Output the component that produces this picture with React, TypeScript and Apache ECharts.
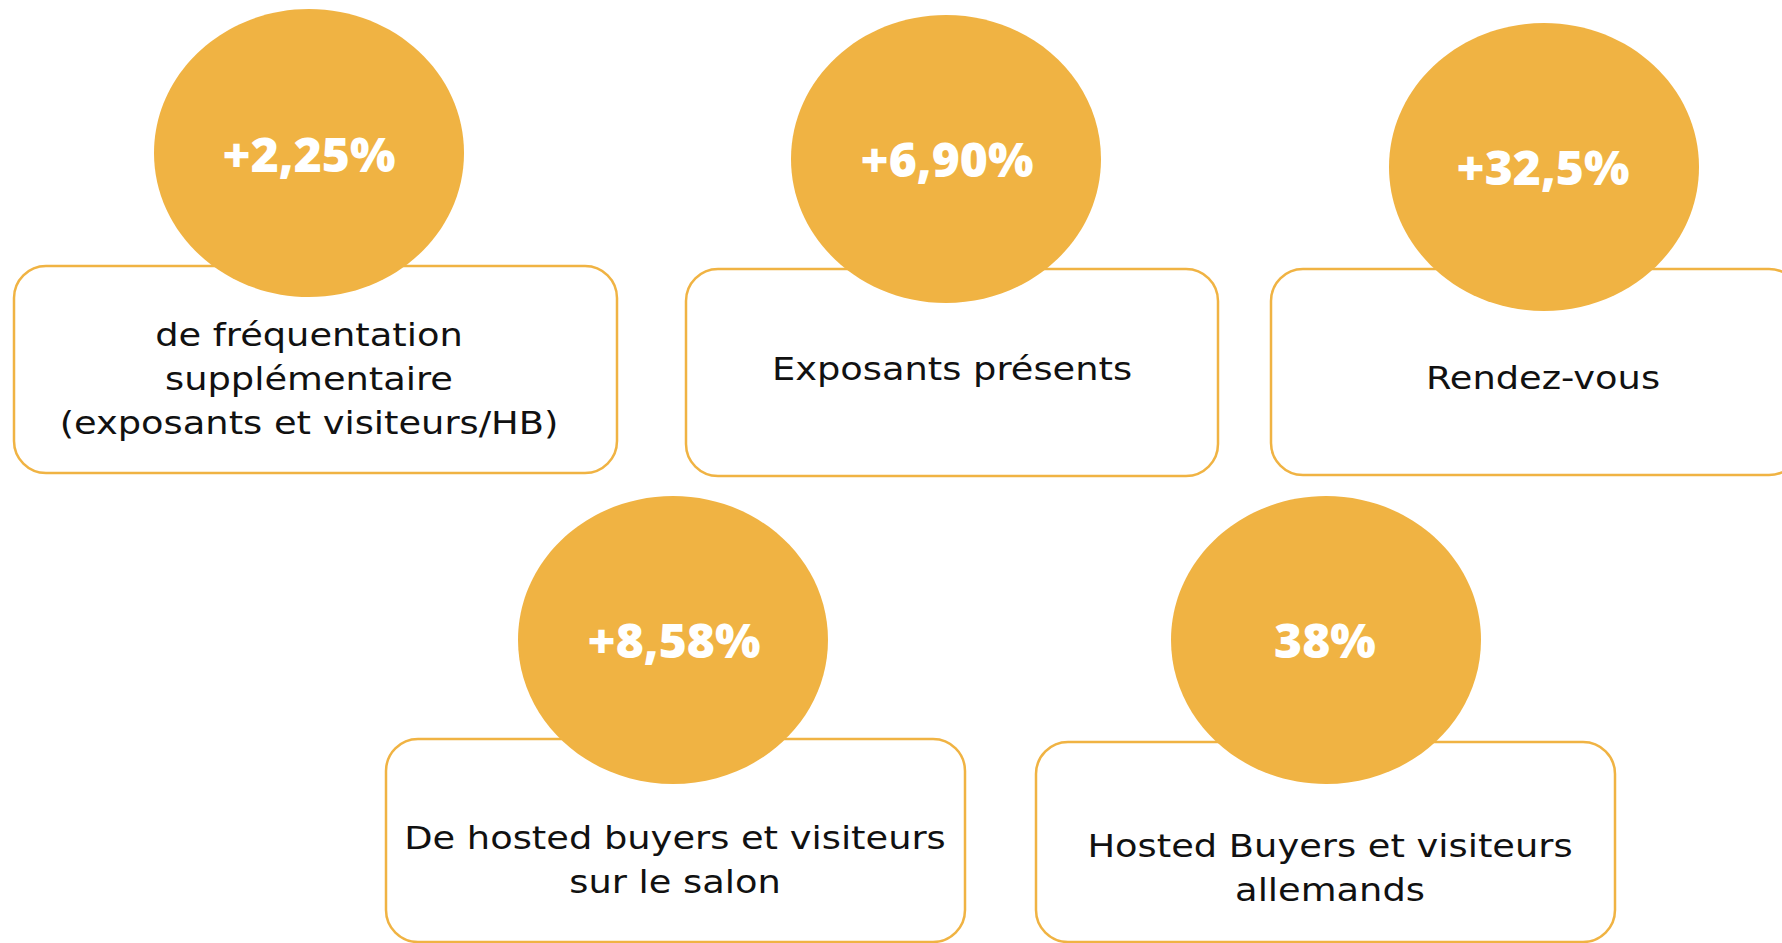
import React, { useEffect, useRef } from "react";
import * as echarts from "echarts";

// ---- data ----
const values: string[] = ["+2,25%", "+6,90%", "+32,5%", "+8,58%", "38%"];
const labels: string[] = [
  "de fréquentation\nsupplémentaire\n(exposants et visiteurs/HB)",
  "Exposants présents",
  "Rendez-vous",
  "De hosted buyers et visiteurs\nsur le salon",
  "Hosted Buyers et visiteurs\nallemands",
];

// ---- layout (positions / sizes, in px) ----
const ellipseCenters: number[][] = [
  [309, 153],
  [946, 159],
  [1544, 167],
  [673, 640],
  [1326, 640],
];
const valueCenters: number[][] = [
  [309, 153],
  [947, 158],
  [1543, 166],
  [674, 639],
  [1325, 639],
];
const boxes: number[][] = [
  [14, 266, 603, 207],
  [686, 269, 532, 207],
  [1271, 269, 530, 206],
  [386, 739, 579, 203],
  [1036, 742, 579, 200],
];
const labelCenters: number[][] = [
  [309, 379],
  [952, 369],
  [1543, 378],
  [675, 860],
  [1330, 868],
];

const ORANGE = "#F0B343";
const BODY_FONT = "'DejaVu Sans', 'Noto Sans', sans-serif";
const VALUE_FONT = "'Open Sans', 'Noto Sans', sans-serif";

export default function App() {
  const ref = useRef<HTMLDivElement>(null);
  useEffect(() => {
    if (!ref.current) return;
    const chart = echarts.init(ref.current, undefined, { renderer: "svg" });
    chart.setOption({
      animation: false,
      backgroundColor: "#ffffff",
      series: [
        {
          type: "custom",
          coordinateSystem: "none",
          silent: true,
          data: values.map((v, i) => [i]),
          renderItem: (params: any) => {
            const i = params.dataIndex;
            const [bx, by, bw, bh] = boxes[i];
            const [ex, ey] = ellipseCenters[i];
            const [vx, vy] = valueCenters[i];
            const [lx, ly] = labelCenters[i];
            return {
              type: "group",
              children: [
                {
                  type: "rect",
                  shape: { x: bx, y: by, width: bw, height: bh, r: 32 },
                  style: { fill: "#ffffff", stroke: ORANGE, lineWidth: 2.5 },
                },
                {
                  type: "text",
                  x: lx,
                  y: ly,
                  scaleX: 1.15,
                  style: {
                    text: labels[i],
                    x: 0,
                    y: 0,
                    align: "center",
                    verticalAlign: "middle",
                    fontFamily: BODY_FONT,
                    fontSize: 32,
                    lineHeight: 44,
                    fill: "#111111",
                  },
                },
                {
                  type: "ellipse",
                  shape: { cx: ex, cy: ey, rx: 155, ry: 144 },
                  style: { fill: ORANGE },
                },
                {
                  type: "text",
                  style: {
                    text: values[i],
                    x: vx,
                    y: vy,
                    align: "center",
                    verticalAlign: "middle",
                    fontFamily: VALUE_FONT,
                    fontWeight: 800,
                    fontSize: 48,
                    fill: "#ffffff",
                  },
                },
              ],
            };
          },
        },
      ],
    });
    return () => chart.dispose();
  }, []);
  return (
    <div
      ref={ref}
      style={{ position: "fixed", left: 0, top: 0, width: 1782, height: 943 }}
    />
  );
}
